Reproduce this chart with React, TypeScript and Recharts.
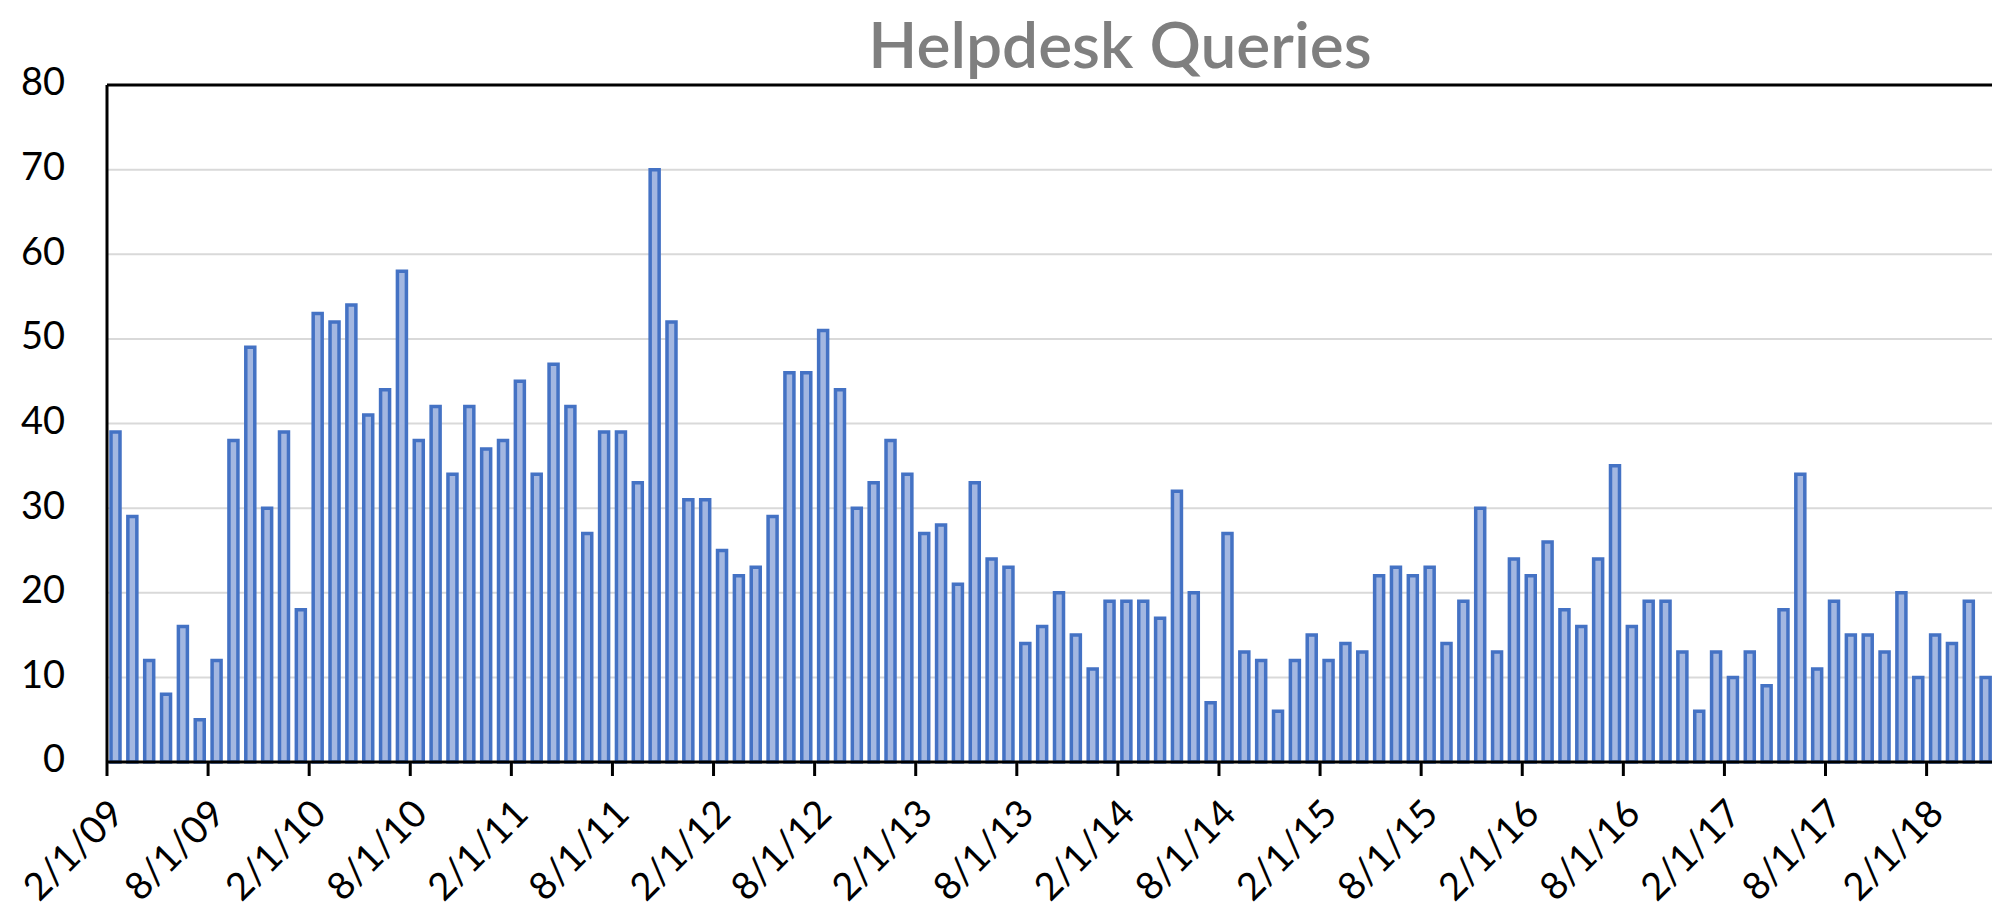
import { Bar, BarChart, CartesianGrid, ReferenceLine, XAxis, YAxis } from "recharts";

// monthly helpdesk query counts, Feb 2009 .. May 2018
const q2009 = [39, 29, 12, 8, 16, 5, 12, 38, 49, 30, 39];
const q2010 = [18, 53, 52, 54, 41, 44, 58, 38, 42, 34, 42, 37];
const q2011 = [38, 45, 34, 47, 42, 27, 39, 39, 33, 70, 52, 31];
const q2012 = [31, 25, 22, 23, 29, 46, 46, 51, 44, 30, 33, 38];
const q2013 = [34, 27, 28, 21, 33, 24, 23, 14, 16, 20, 15, 11];
const q2014 = [19, 19, 19, 17, 32, 20, 7, 27, 13, 12, 6, 12];
const q2015 = [15, 12, 14, 13, 22, 23, 22, 23, 14, 19, 30, 13];
const q2016 = [24, 22, 26, 18, 16, 24, 35, 16, 19, 19, 13, 6];
const q2017 = [13, 10, 13, 9, 18, 34, 11, 19, 15, 15, 13, 20];
const q2018 = [10, 15, 14, 19, 10];

const queries = [
  ...q2009, ...q2010, ...q2011, ...q2012, ...q2013,
  ...q2014, ...q2015, ...q2016, ...q2017, ...q2018
];

const startYear = 2009;
const startMonth = 2;
const yTicks = [0, 10, 20, 30, 40, 50, 60, 70, 80];

// category labels in the M/1/YY form the sheet uses
const months = queries.map((_, i) => {
  const m = ((startMonth - 1 + i) % 12) + 1;
  const y = startYear + Math.floor((startMonth - 1 + i) / 12);
  return `${m}/1/${String(y % 100).padStart(2, "0")}`;
});

const data = months.map((month, i) => ({ month, queries: queries[i] }));

const W = 1995;
const H = 910;
const Y_AXIS_W = 107;
const MARGIN = { top: 85, right: 1, left: 0, bottom: 0 };
const BAND = (W - MARGIN.left - MARGIN.right - Y_AXIS_W) / queries.length;
const FONT = "Lato, 'Open Sans', sans-serif";

// Excel puts date ticks on the band edges, so shift them half a band left
function DateTick(props: any) {
  const { x, y, payload } = props;
  const bx = x - BAND / 2;
  const tx = bx + 19;
  const ty = y + 54;
  return (
    <g>
      <line x1={bx} y1={y} x2={bx} y2={y + 14} stroke="#000" strokeWidth={3} />
      <text
        x={tx}
        y={ty}
        textAnchor="end"
        transform={`rotate(-45 ${tx} ${ty})`}
        fontSize={38}
        fontFamily={FONT}
        fill="#000"
      >
        {payload.value}
      </text>
    </g>
  );
}

export default function App() {
  return (
    <div
      style={{
        position: "fixed",
        left: 0,
        top: 0,
        width: 1992,
        height: 910,
        overflow: "hidden",
        background: "#fff"
      }}
    >
      <BarChart width={W} height={H} data={data} margin={MARGIN}>
        <CartesianGrid vertical={false} stroke="#d9d9d9" strokeWidth={2} />
        <XAxis
          dataKey="month"
          interval={5}
          height={148}
          tickSize={0}
          tickMargin={0}
          tickLine={false}
          axisLine={{ stroke: "#000", strokeWidth: 3 }}
          tick={<DateTick />}
        />
        <YAxis
          domain={[0, 80]}
          ticks={yTicks}
          interval={0}
          width={Y_AXIS_W}
          tickSize={0}
          tickMargin={42}
          tickLine={false}
          axisLine={{ stroke: "#000", strokeWidth: 3 }}
          tick={{ fill: "#000", fontSize: 38, fontFamily: FONT, dy: -3 }}
        />
        <ReferenceLine y={80} stroke="#000" strokeWidth={3} />
        <Bar
          dataKey="queries"
          barSize={9}
          fill="#a3b7e1"
          stroke="#4472c4"
          strokeWidth={3.5}
          isAnimationActive={false}
        />
      </BarChart>
      <svg
        width={1992}
        height={910}
        style={{ position: "absolute", left: 0, top: 0, pointerEvents: "none" }}
      >
        <text
          x={1120}
          y={68}
          textAnchor="middle"
          fontSize={64}
          fontWeight={600}
          fontFamily={FONT}
          fill="#7f7f7f"
        >
          Helpdesk Queries
        </text>
      </svg>
    </div>
  );
}
